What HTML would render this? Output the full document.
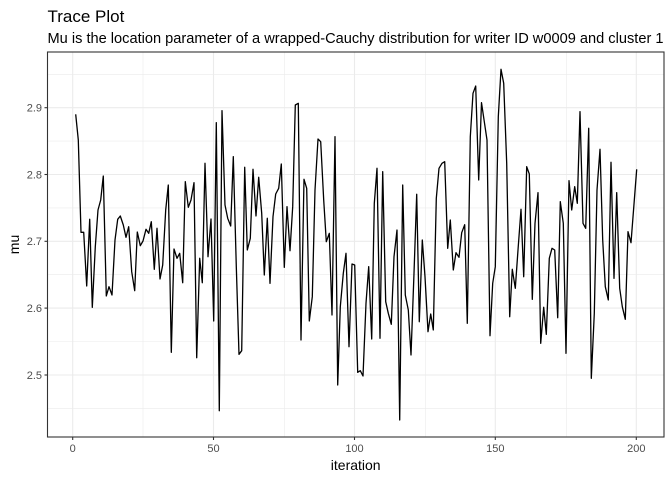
<!DOCTYPE html>
<html><head><meta charset="utf-8"><style>html,body{margin:0;padding:0;background:#fff}svg{display:block}</style></head><body>
<svg width="672" height="480" viewBox="0 0 672 480" xmlns="http://www.w3.org/2000/svg" font-family="Liberation Sans, sans-serif">
<rect width="672" height="480" fill="#fff"/>
<text x="47.5" y="22" font-size="17" fill="#000">Trace Plot</text>
<text x="47.5" y="43" font-size="14.3" textLength="616" lengthAdjust="spacingAndGlyphs" fill="#000">Mu is the location parameter of a wrapped-Cauchy distribution for writer ID w0009 and cluster 1</text>
<g stroke="#ebebeb" stroke-width="0.6">
<line x1="47.5" x2="664" y1="74.3" y2="74.3"/><line x1="47.5" x2="664" y1="141.1" y2="141.1"/><line x1="47.5" x2="664" y1="207.9" y2="207.9"/><line x1="47.5" x2="664" y1="274.7" y2="274.7"/><line x1="47.5" x2="664" y1="341.5" y2="341.5"/><line x1="47.5" x2="664" y1="408.3" y2="408.3"/>
<line y1="52" y2="437" x1="143" x2="143"/><line y1="52" y2="437" x1="284.3" x2="284.3"/><line y1="52" y2="437" x1="425.3" x2="425.3"/><line y1="52" y2="437" x1="566.3" x2="566.3"/>
</g>
<g stroke="#ebebeb" stroke-width="1.1">
<line x1="47.5" x2="664" y1="107.7" y2="107.7"/><line x1="47.5" x2="664" y1="174.5" y2="174.5"/><line x1="47.5" x2="664" y1="241.3" y2="241.3"/><line x1="47.5" x2="664" y1="308.1" y2="308.1"/><line x1="47.5" x2="664" y1="375" y2="375"/>
<line y1="52" y2="437" x1="72.7" x2="72.7"/><line y1="52" y2="437" x1="213.5" x2="213.5"/><line y1="52" y2="437" x1="354.5" x2="354.5"/><line y1="52" y2="437" x1="495.3" x2="495.3"/><line y1="52" y2="437" x1="636.3" x2="636.3"/>
</g>
<polyline fill="none" stroke="#000" stroke-width="1.3" stroke-linejoin="round" points="75.7,114.3 78.3,140 81,232.3 83.7,232.3 86.7,286 89.7,219.3 92.3,307.3 95.3,246.7 98,210 100.7,200 103.3,176 106.3,296 109,286.7 112,295 115,240 117.7,219.3 120.3,216 123.3,225 126,237.3 128.7,226.7 131.7,271.7 134.7,290.7 137.3,232 140.3,245.7 143,241 146,229.3 148.7,233.3 151.3,221.7 154.3,269.3 157,228.3 160,279 162.7,265 165.7,210 168.3,185 171.3,352.3 174,249 177,258.3 179.7,253.3 182.7,282.7 185.3,181.7 188.3,207.3 191,200 194,182.7 196.7,357.7 199.7,258.3 202.3,282.7 205,163.3 208,256.7 211,219 213.7,321 216.3,122.7 219.3,410.7 222,110.7 225,205 227.7,218.3 230.7,226 233.3,156.7 236.3,266.7 239,354.3 241.7,350.7 244.7,167.3 247.3,250 250.3,238.3 253,169.3 256,216 258.7,177.3 261.7,213.3 264.3,275 267.3,218.3 270,283.3 273,216.7 275.7,194 278.7,188.3 281.3,164 284.3,267.3 287,206.7 290,250.7 292.7,206.7 295.3,105 298.3,103.3 301,340 304,179.3 306.7,188.3 309.3,321 312.3,296.7 315,190 318,139 320.7,141.7 323.7,200 326.3,241.7 329.3,233.3 332,315 335,136.7 337.7,385 340.3,306.7 343.3,273.3 346,253.3 349,346.7 352,264 354.7,265 357.7,372.3 360.3,370.7 363,376 366,303.3 368.7,266.7 371.7,339 374.3,203.3 377,168.3 380,338.3 382.7,171.7 385.7,301.7 388.3,313.3 391.3,324.3 394,256.7 397,230 399.7,420 402.7,185 405.3,295 408.3,310 411,355 414,273.3 416.7,194.3 419.3,321.7 422.3,240 425,276.7 428,331.7 430.7,314 433.3,330 436.3,198.3 439,168.3 442,163.3 444.7,161.7 447.7,248.3 450.3,220 453.3,270 456,252.7 459,257.3 461.7,232.7 464.7,224.7 467.3,323.3 470.3,136.7 473,93.3 475.7,86 478.7,180 481.5,102.7 484.3,121.7 487,140 490,335.7 492.7,283.3 495.3,266.7 498.3,116.7 501,69.3 503.7,83.3 506.7,163.3 509.7,316.7 512.3,269.3 515.3,288.3 518,250 521,209.3 523.7,276.7 526.7,166.7 529.3,174 532.3,299.3 535,223.3 538,192.7 540.7,343.3 543.7,307.3 546.3,334.3 549.3,258.3 552,248.3 554.7,250 557.7,317.7 560.3,201.7 563.3,223.3 566,353.3 569,180.7 571.7,210 574.7,186.7 577.3,203.3 580,111.7 583,223.3 585.7,228.3 588.7,128.3 591.3,378.3 594.3,313.3 597,190 600,149.3 602.7,240 605.3,286.7 608.3,300 611,162.3 614,278.3 616.7,192.7 619.7,288.3 622.3,306.7 625.3,319.3 628,231.7 631,242.7 636.7,169.3"/>
<rect x="47.5" y="52" width="616.5" height="385" fill="none" stroke="#333" stroke-width="1.1"/>
<g stroke="#333" stroke-width="1.1">
<line x1="44.5" x2="47.5" y1="107.7" y2="107.7"/><line x1="44.5" x2="47.5" y1="174.5" y2="174.5"/><line x1="44.5" x2="47.5" y1="241.3" y2="241.3"/><line x1="44.5" x2="47.5" y1="308.1" y2="308.1"/><line x1="44.5" x2="47.5" y1="375" y2="375"/>
<line y1="437" y2="440" x1="72.7" x2="72.7"/><line y1="437" y2="440" x1="213.5" x2="213.5"/><line y1="437" y2="440" x1="354.5" x2="354.5"/><line y1="437" y2="440" x1="495.3" x2="495.3"/><line y1="437" y2="440" x1="636.3" x2="636.3"/>
</g>
<g font-size="11" fill="#4d4d4d" text-anchor="end">
<text x="42" y="111.5">2.9</text><text x="42" y="178.5">2.8</text><text x="42" y="245">2.7</text><text x="42" y="312">2.6</text><text x="42" y="379">2.5</text>
</g>
<g font-size="11" fill="#4d4d4d" text-anchor="middle">
<text x="72.7" y="452">0</text><text x="213.5" y="452">50</text><text x="354.5" y="452">100</text><text x="495.3" y="452">150</text><text x="636.3" y="452">200</text>
</g>
<text x="355.7" y="470" font-size="14" text-anchor="middle" fill="#000">iteration</text>
<text transform="translate(19,244.5) rotate(-90)" font-size="14" text-anchor="middle" fill="#000">mu</text>
</svg>
</body></html>
